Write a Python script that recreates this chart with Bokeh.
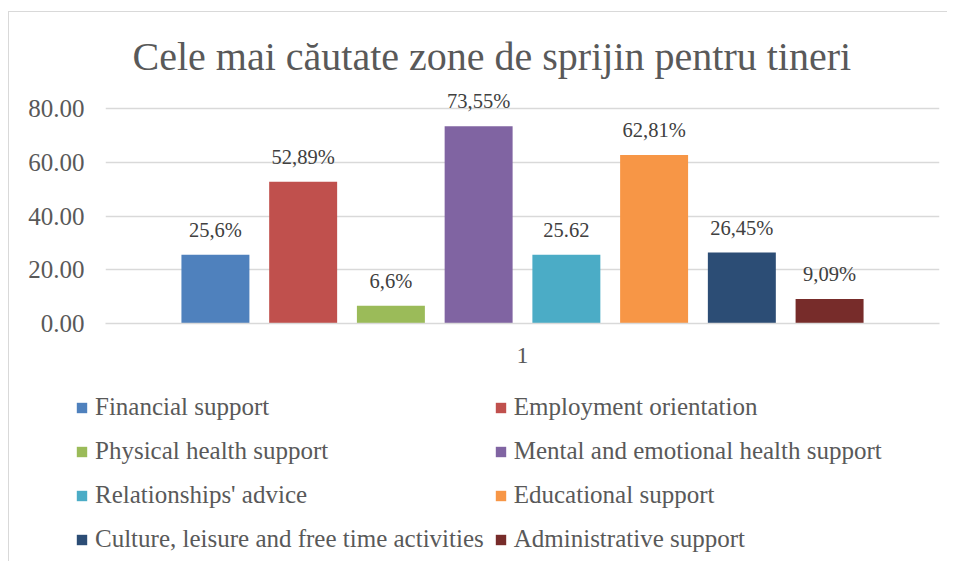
from bokeh.plotting import figure
from bokeh.layouts import column
from bokeh.models import (ColumnDataSource, FactorRange, Range1d, LabelSet, Legend,
                          LegendItem, FixedTicker, PrintfTickFormatter)
from bokeh.transform import dodge
from bokeh.core.properties import value
from bokeh.embed import file_html
from bokeh.resources import INLINE

TITLE = "Cele mai căutate zone de sprijin pentru tineri"
CATEGORY = ["1"]
SERIES = [
    "Financial support",
    "Employment orientation",
    "Physical health support",
    "Mental and emotional health support",
    "Relationships' advice",
    "Educational support",
    "Culture, leisure and free time activities",
    "Administrative support",
]
VALUES = [25.6, 52.89, 6.6, 73.55, 25.62, 62.81, 26.45, 9.09]
LABELS = ["25,6%", "52,89%", "6,6%", "73,55%", "25.62", "62,81%", "26,45%", "9,09%"]
COLORS = ["#4F81BD", "#C0504D", "#9BBB59", "#8064A2", "#4BACC6", "#F79646", "#2C4D75", "#772C2A"]
Y_TICKS = [0, 20, 40, 60, 80]

FONT = "Liberation Serif"
GRID = "#D9D9D9"
TXT = "#595959"

p = figure(
    x_range=FactorRange(factors=CATEGORY),
    y_range=Range1d(0, 88),
    width=938, height=368,
    output_backend="svg", toolbar_location=None,
    min_border_left=96, min_border_right=8, min_border_top=75, min_border_bottom=57,
)
p.frame_align = False
p.outline_line_color = None
p.background_fill_color = "white"

p.title.text = TITLE
p.title.align = "left"
p.title.offset = 27
p.title.standoff = 17
p.title.text_font = FONT
p.title.text_font_size = "40px"
p.title.text_font_style = "normal"
p.title.text_color = TXT

step = 0.1052
bar_w = 0.0815
n = len(SERIES)
sources = []
for i, (name, v, lab, col) in enumerate(zip(SERIES, VALUES, LABELS, COLORS)):
    off = (i - (n - 1) / 2) * step
    src = ColumnDataSource(dict(cat=CATEGORY, value=[v], label=[lab]))
    sources.append(src)
    p.vbar(x=dodge("cat", off, range=p.x_range), top="value", width=bar_w,
           source=src, fill_color=col, line_color=None)
    ls = LabelSet(x=dodge("cat", off, range=p.x_range), y="value", text="label", source=src,
                  y_offset=25, text_align="center", text_baseline="middle",
                  text_font=value(FONT), text_font_size=value("20.5px"), text_color="#404040")
    p.add_layout(ls)

# axes
p.yaxis.ticker = FixedTicker(ticks=Y_TICKS)
p.yaxis.formatter = PrintfTickFormatter(format="%.2f")
p.yaxis.axis_line_color = None
p.yaxis.major_tick_line_color = None
p.yaxis.minor_tick_line_color = None
p.yaxis.major_label_standoff = 15
p.yaxis.major_label_text_font = FONT
p.yaxis.major_label_text_font_size = "25px"
p.yaxis.major_label_text_color = TXT

p.xaxis.axis_line_color = GRID
p.xaxis.axis_line_width = 1.5
p.xaxis.major_tick_line_color = None
p.xaxis.minor_tick_line_color = None
p.xaxis.major_label_standoff = 18
p.xaxis.major_label_text_font = FONT
p.xaxis.major_label_text_font_size = "24px"
p.xaxis.major_label_text_color = TXT

p.xgrid.grid_line_color = None
p.ygrid.grid_line_color = GRID
p.ygrid.grid_line_width = 1.5

# legend panel (separate figure below the chart)
pl = figure(
    x_range=FactorRange(factors=CATEGORY), y_range=Range1d(1000, 1001),
    width=938, height=181, output_backend="svg", toolbar_location=None,
    x_axis_type=None, y_axis_type=None,
    min_border_left=0, min_border_right=0, min_border_top=0, min_border_bottom=0,
)
pl.frame_align = False
pl.outline_line_color = None
pl.grid.visible = False
items = []
for i, (name, col, src) in enumerate(zip(SERIES, COLORS, sources)):
    off = (i - (n - 1) / 2) * step
    r = pl.vbar(x=dodge("cat", off, range=pl.x_range), top="value", width=bar_w,
                source=src, fill_color=col, line_color=None)
    items.append(LegendItem(label=name, renderers=[r]))

legend = Legend(
    items=items, orientation="horizontal", ncols=2, location=(66, 5),
    glyph_width=13, glyph_height=13, label_standoff=7, spacing=10, label_height=34,
    padding=0, margin=0, border_line_color=None, background_fill_alpha=0,
    label_text_font=FONT, label_text_font_size="25px", label_text_color=TXT,
)
pl.add_layout(legend)

layout = column(p, pl, spacing=0)
layout.styles = {"margin-top": "11px", "margin-left": "8px",
                 "border-top": "1.5px solid #D9D9D9", "border-left": "1.5px solid #D9D9D9"}

open("out.html", "w").write(file_html(layout, INLINE))
